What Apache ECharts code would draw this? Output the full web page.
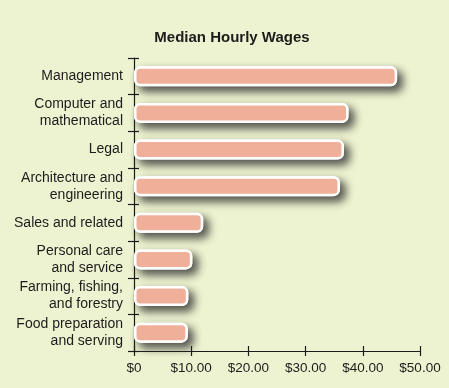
<!DOCTYPE html>
<html>
<head>
<meta charset="utf-8">
<script src="https://cdn.jsdelivr.net/npm/echarts@6/dist/echarts.min.js"></script>
<style>
html,body{margin:0;padding:0;background:#EDF3D0;}
#chart{width:449px;height:388px;}
</style>
</head>
<body>
<div id="chart"></div>
<script>
const categories = [
  "Management",
  "Computer and\nmathematical",
  "Legal",
  "Architecture and\nengineering",
  "Sales and related",
  "Personal care\nand service",
  "Farming, fishing,\nand forestry",
  "Food preparation\nand serving"
];
const wages = [46.0, 37.5, 36.7, 36.0, 12.1, 10.2, 9.5, 9.4];
const xTicks = [0, 10, 20, 30, 40, 50];
const xTickLabels = ["$0", "$10.00", "$20.00", "$30.00", "$40.00", "$50.00"];

const chart = echarts.init(document.getElementById('chart'), null, {renderer: 'canvas'});
const FONT = '"Liberation Sans", Arial, Helvetica, sans-serif';
const INK = '#1E1B1C';
const axisLineStyle = {color: INK, width: 1.2};

const xLabelFor = v => {
  const i = xTicks.indexOf(v);
  return i >= 0 ? xTickLabels[i] : '';
};

chart.setOption({
  backgroundColor: '#EDF3D0',
  animation: false,
  title: {
    text: 'Median Hourly Wages',
    left: 227, top: 25, textAlign: 'center',
    textStyle: {fontFamily: FONT, fontWeight: 'bold', fontSize: 15, color: INK}
  },
  grid: {left: 134, right: 29, top: 58, bottom: 37, containLabel: false},
  xAxis: [{
    type: 'value', min: 0, max: 50, interval: 10,
    axisLine: {show: true, lineStyle: axisLineStyle},
    axisTick: {show: true, inside: false, length: 5, lineStyle: axisLineStyle},
    splitLine: {show: false},
    axisLabel: {formatter: xLabelFor, fontFamily: FONT, fontSize: 13.5, color: INK, margin: 10}
  }, {
    type: 'value', min: 0, max: 50, interval: 10, position: 'bottom',
    axisLine: {show: false},
    axisTick: {show: true, inside: true, length: 5, lineStyle: axisLineStyle},
    splitLine: {show: false},
    axisLabel: {show: false}
  }],
  yAxis: [{
    type: 'category', data: categories, inverse: true,
    axisLine: {show: true, lineStyle: axisLineStyle},
    axisTick: {show: true, inside: false, length: 6, lineStyle: axisLineStyle},
    axisLabel: {fontFamily: FONT, fontSize: 14, color: INK, margin: 11, lineHeight: 17, align: 'right'}
  }, {
    type: 'category', data: categories, inverse: true, position: 'left',
    axisLine: {show: false},
    axisTick: {show: true, inside: true, length: 5, lineStyle: axisLineStyle},
    axisLabel: {show: false}
  }],
  series: [{
    type: 'bar',
    data: wages,
    barWidth: 20,
    silent: true,
    itemStyle: {
      color: '#FFFFFF',
      borderColor: '#FFFFFF',
      borderWidth: 2.5,
      borderRadius: 5,
      shadowColor: 'rgba(45,45,45,0.85)',
      shadowBlur: 8,
      shadowOffsetX: 5,
      shadowOffsetY: 5
    }
  }, {
    type: 'bar',
    data: wages,
    barWidth: 20,
    barGap: '-100%',
    itemStyle: {
      color: '#F0AF98',
      borderColor: '#FFFFFF',
      borderWidth: 2.5,
      borderRadius: 5
    }
  }]
});
</script>
</body>
</html>
